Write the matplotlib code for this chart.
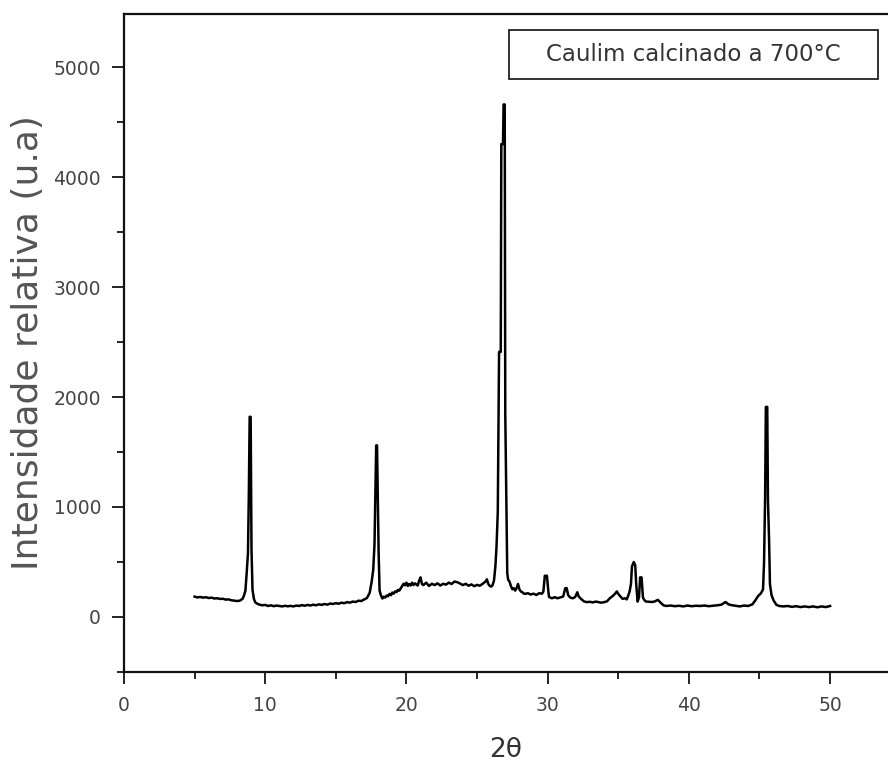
import matplotlib
matplotlib.use("Agg")
import matplotlib.pyplot as plt
from matplotlib.patches import Rectangle
from matplotlib.ticker import MultipleLocator

# difratograma do caulim calcinado (2theta em graus, intensidade em u.a.)
two_theta = [
    5.0, 5.2, 5.4, 5.6, 5.8, 6.0, 6.2, 6.4, 6.6, 6.8, 7.0, 7.2, 7.4, 7.6, 7.8, 8.0,
    8.2, 8.4, 8.5, 8.6, 8.7, 8.78, 8.84, 8.9, 8.97, 9.03, 9.1, 9.2, 9.3, 9.45, 9.6, 9.8,
    10.0, 10.2, 10.4, 10.6, 10.8, 11.0, 11.2, 11.4, 11.6, 11.8, 12.0, 12.2, 12.4, 12.6,
    12.8, 13.0, 13.2, 13.4, 13.6, 13.8, 14.0, 14.2, 14.4, 14.6, 14.8, 15.0, 15.2, 15.4,
    15.6, 15.8, 16.0, 16.2, 16.4, 16.6, 16.8, 17.0, 17.2, 17.4, 17.55, 17.65, 17.74,
    17.8, 17.86, 17.92, 17.97, 18.03, 18.1, 18.2, 18.3, 18.4, 18.5, 18.6, 18.7, 18.8,
    18.9, 19.0, 19.1, 19.2, 19.3, 19.4, 19.5, 19.6, 19.7, 19.8, 19.9, 20.0, 20.1, 20.2,
    20.3, 20.4, 20.5, 20.6, 20.8, 20.9, 21.0, 21.1, 21.2, 21.4, 21.6, 21.8, 22.0, 22.2,
    22.4, 22.6, 22.8, 23.0, 23.2, 23.4, 23.6, 23.8, 24.0, 24.2, 24.4, 24.6, 24.8, 25.0,
    25.2, 25.4, 25.6, 25.7, 25.8, 25.9, 26.0, 26.1, 26.2, 26.3, 26.38, 26.47, 26.56,
    26.68, 26.72, 26.84, 26.88, 26.96, 27.0, 27.08, 27.14, 27.2, 27.3, 27.4, 27.5, 27.6,
    27.7, 27.8, 27.9, 28.0, 28.1, 28.2, 28.3, 28.4, 28.6, 28.8, 29.0, 29.2, 29.4, 29.6,
    29.7, 29.8, 29.95, 30.05, 30.1, 30.3, 30.5, 30.7, 30.9, 31.1, 31.25, 31.35, 31.45,
    31.6, 31.8, 31.95, 32.1, 32.2, 32.4, 32.6, 32.8, 33.0, 33.2, 33.4, 33.6, 33.8, 34.0,
    34.2, 34.4, 34.6, 34.8, 34.9, 35.0, 35.1, 35.3, 35.5, 35.6, 35.7, 35.8, 35.9, 35.97,
    36.1, 36.2, 36.27, 36.37, 36.47, 36.55, 36.65, 36.75, 36.9, 37.0, 37.2, 37.4, 37.6,
    37.8, 38.0, 38.2, 38.4, 38.7, 39.0, 39.3, 39.6, 39.9, 40.2, 40.5, 40.8, 41.1, 41.4,
    41.7, 42.0, 42.3, 42.6, 42.8, 43.0, 43.3, 43.6, 43.9, 44.2, 44.5, 44.7, 44.9, 45.1,
    45.25, 45.32, 45.4, 45.45, 45.55, 45.6, 45.68, 45.74, 45.85, 46.0, 46.2, 46.4, 46.7,
    47.0, 47.3, 47.6, 47.9, 48.2, 48.5, 48.8, 49.1, 49.4, 49.7, 50.0,
]
intensity = [
    185, 178, 182, 176, 180, 172, 176, 168, 170, 164, 166, 158, 160, 152, 148, 145,
    148, 165, 195, 240, 420, 580, 1100, 1820, 1820, 620, 250, 165, 132, 120, 112, 106,
    110, 100, 106, 98, 104, 100, 96, 102, 97, 101, 96, 104, 100, 108,
    102, 110, 104, 112, 106, 115, 110, 118, 112, 122, 118, 126, 120, 130,
    125, 135, 130, 140, 136, 148, 145, 158, 172, 220, 330, 430, 660,
    1100, 1560, 1560, 1100, 600, 240, 195, 168, 185, 176, 195, 188, 210,
    198, 222, 212, 232, 226, 246, 240, 262, 282, 302, 288, 312, 282, 300,
    286, 312, 290, 306, 286, 330, 360, 300, 290, 312, 282, 302, 290, 306,
    286, 302, 294, 312, 300, 322, 316, 304, 290, 302, 284, 296, 280, 292,
    284, 302, 322, 342, 300, 282, 276, 290, 330, 460, 640, 960, 2410,
    2410, 4300, 4300, 4660, 4660, 1840, 1000, 400, 340, 322, 280, 252, 262,
    240, 262, 300, 252, 232, 226, 214, 210, 216, 204, 212, 200, 216, 212,
    232, 375, 375, 232, 182, 170, 180, 170, 178, 186, 262, 262, 200,
    176, 170, 182, 225, 186, 160, 140, 135, 138, 132, 140, 135, 130, 135,
    142, 170, 190, 215, 232, 210, 195, 165, 170, 160, 192, 230, 300, 460,
    500, 470, 300, 140, 180, 360, 360, 175, 145, 140, 138, 136, 142,
    156, 130, 106, 100, 104, 98, 102, 96, 104, 98, 102, 100, 104, 98,
    102, 106, 112, 136, 115, 108, 102, 96, 104, 100, 115, 150, 190, 215,
    250, 480, 1100, 1910, 1910, 1060, 700, 300, 200, 150, 110, 100, 96,
    100, 92, 98, 90, 96, 90, 96, 88, 96, 90, 100,
]

legend_text = "Caulim calcinado a 700°C"

tick_color = "#444444"
plt.rcParams["font.family"] = "DejaVu Sans"

fig = plt.figure(figsize=(8.88, 7.67), dpi=100)
ax = fig.add_axes([0.1396, 0.1239, 0.8604, 0.8578])

ax.plot(two_theta, intensity, color="black", lw=1.8)

ax.set_xlim(0, 54.1)
ax.set_ylim(-500, 5482)

ax.xaxis.set_major_locator(MultipleLocator(10))
ax.xaxis.set_minor_locator(MultipleLocator(5))
ax.yaxis.set_major_locator(MultipleLocator(1000))
ax.yaxis.set_minor_locator(MultipleLocator(500))

ax.tick_params(which="major", direction="out", length=8.5, width=1.4,
               labelsize=13.5, labelcolor=tick_color, color="#222222")
ax.tick_params(which="minor", direction="out", length=4.8, width=1.4, color="#222222")
ax.tick_params(axis="x", which="major", pad=9)
ax.tick_params(axis="y", which="major", pad=8)
ax.spines["right"].set_visible(False)
for s in ["left", "bottom", "top"]:
    ax.spines[s].set_linewidth(1.6)
    ax.spines[s].set_color("#111111")

ax.set_ylabel("Intensidade relativa (u.a)", fontsize=26, color="#555555", labelpad=6)
ax.set_xlabel("2θ", fontsize=19, color="#333333", labelpad=16)

# caixa com o nome da amostra
ax.add_patch(Rectangle((0.504, 0.9012), 0.483, 0.0745, transform=ax.transAxes,
                       fill=False, edgecolor="#222222", lw=1.3))
ax.text(0.7455, 0.938, legend_text, transform=ax.transAxes, ha="center",
        va="center", fontsize=16.5, color="#333333")

fig.savefig("out.png", dpi=100)
